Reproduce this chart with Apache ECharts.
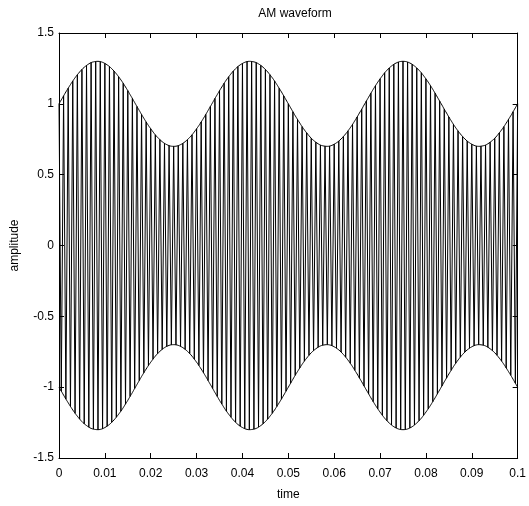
<!DOCTYPE html>
<html>
<head>
<meta charset="utf-8">
<script src="https://cdn.jsdelivr.net/npm/echarts@6/dist/echarts.min.js"></script>
<style>
html,body{margin:0;padding:0;background:#fff;}
#chart{width:529px;height:506px;}
</style>
</head>
<body>
<div id="chart"></div>
<script>
// time samples (s) at each carrier half-cycle peak
var time = [
0,0.0005,0.001,0.0015,0.002,0.0025,0.003,0.0035,0.004,0.0045,
0.005,0.0055,0.006,0.0065,0.007,0.0075,0.008,0.0085,0.009,0.0095,
0.01,0.0105,0.011,0.0115,0.012,0.0125,0.013,0.0135,0.014,0.0145,
0.015,0.0155,0.016,0.0165,0.017,0.0175,0.018,0.0185,0.019,0.0195,
0.02,0.0205,0.021,0.0215,0.022,0.0225,0.023,0.0235,0.024,0.0245,
0.025,0.0255,0.026,0.0265,0.027,0.0275,0.028,0.0285,0.029,0.0295,
0.03,0.0305,0.031,0.0315,0.032,0.0325,0.033,0.0335,0.034,0.0345,
0.035,0.0355,0.036,0.0365,0.037,0.0375,0.038,0.0385,0.039,0.0395,
0.04,0.0405,0.041,0.0415,0.042,0.0425,0.043,0.0435,0.044,0.0445,
0.045,0.0455,0.046,0.0465,0.047,0.0475,0.048,0.0485,0.049,0.0495,
0.05,0.0505,0.051,0.0515,0.052,0.0525,0.053,0.0535,0.054,0.0545,
0.055,0.0555,0.056,0.0565,0.057,0.0575,0.058,0.0585,0.059,0.0595,
0.06,0.0605,0.061,0.0615,0.062,0.0625,0.063,0.0635,0.064,0.0645,
0.065,0.0655,0.066,0.0665,0.067,0.0675,0.068,0.0685,0.069,0.0695,
0.07,0.0705,0.071,0.0715,0.072,0.0725,0.073,0.0735,0.074,0.0745,
0.075,0.0755,0.076,0.0765,0.077,0.0775,0.078,0.0785,0.079,0.0795,
0.08,0.0805,0.081,0.0815,0.082,0.0825,0.083,0.0835,0.084,0.0845,
0.085,0.0855,0.086,0.0865,0.087,0.0875,0.088,0.0885,0.089,0.0895,
0.09,0.0905,0.091,0.0915,0.092,0.0925,0.093,0.0935,0.094,0.0945,
0.095,0.0955,0.096,0.0965,0.097,0.0975,0.098,0.0985,0.099,0.0995,
0.1
];
// amplitude at each of those peaks (alternating sign carrier, envelope)
var amplitude = [
1.000,-1.028,1.056,-1.084,1.110,-1.136,1.161,-1.184,1.205,-1.225,
1.243,-1.258,1.271,-1.282,1.291,-1.296,1.299,-1.300,1.298,-1.293,
1.285,-1.275,1.263,-1.248,1.231,-1.212,1.191,-1.169,1.145,-1.119,
1.093,-1.065,1.038,-1.009,0.981,-0.953,0.925,-0.898,0.872,-0.847,
0.824,-0.802,0.781,-0.763,0.747,-0.733,0.721,-0.712,0.705,-0.701,
0.700,-0.701,0.705,-0.712,0.721,-0.733,0.747,-0.763,0.781,-0.802,
0.824,-0.847,0.872,-0.898,0.925,-0.953,0.981,-1.009,1.038,-1.065,
1.093,-1.119,1.145,-1.169,1.191,-1.212,1.231,-1.248,1.263,-1.275,
1.285,-1.293,1.298,-1.300,1.299,-1.296,1.291,-1.282,1.271,-1.258,
1.243,-1.225,1.205,-1.184,1.161,-1.136,1.110,-1.084,1.056,-1.028,
1.000,-0.972,0.944,-0.916,0.890,-0.864,0.839,-0.816,0.795,-0.775,
0.757,-0.742,0.729,-0.718,0.709,-0.704,0.701,-0.700,0.702,-0.707,
0.715,-0.725,0.737,-0.752,0.769,-0.788,0.809,-0.831,0.855,-0.881,
0.907,-0.935,0.962,-0.991,1.019,-1.047,1.075,-1.102,1.128,-1.153,
1.176,-1.198,1.219,-1.237,1.253,-1.267,1.279,-1.288,1.295,-1.299,
1.300,-1.299,1.295,-1.288,1.279,-1.267,1.253,-1.237,1.219,-1.198,
1.176,-1.153,1.128,-1.102,1.075,-1.047,1.019,-0.991,0.962,-0.935,
0.907,-0.881,0.855,-0.831,0.809,-0.788,0.769,-0.752,0.737,-0.725,
0.715,-0.707,0.702,-0.700,0.701,-0.704,0.709,-0.718,0.729,-0.742,
0.757,-0.775,0.795,-0.816,0.839,-0.864,0.890,-0.916,0.944,-0.972,
1.000
];
var xTicks = [0,0.01,0.02,0.03,0.04,0.05,0.06,0.07,0.08,0.09,0.1];
var yTicks = [-1.5,-1,-0.5,0,0.5,1,1.5];

var FONT = 'Liberation Sans, Arial, sans-serif';
var seriesData = time.map(function(t,i){ return [t, amplitude[i]]; });
var upperEnv = time.map(function(t,i){ return [t, Math.abs(amplitude[i])]; });
var lowerEnv = time.map(function(t,i){ return [t, -Math.abs(amplitude[i])]; });
function fmt(v){ return String(parseFloat(Number(v).toFixed(4))); }

var lineStyle = {color:'#000', width:1};
var chart = echarts.init(document.getElementById('chart'), null, {renderer:'canvas'});
chart.setOption({
  backgroundColor:'#fff',
  animation:false,
  title:{
    text:'AM waveform', left:290, top:3, textAlign:'center',
    textStyle:{fontFamily:FONT, fontSize:12, fontWeight:'normal', color:'#000'}
  },
  grid:{left:59, right:9, top:33, bottom:44, containLabel:false},
  xAxis:[{
    type:'value', position:'bottom',
    min:xTicks[0], max:xTicks[xTicks.length-1], interval:0.01,
    name:'time', nameLocation:'middle', nameGap:31,
    nameTextStyle:{fontFamily:FONT, fontSize:12, color:'#000'},
    axisLine:{show:true, onZero:false, lineStyle:lineStyle},
    axisTick:{show:true, inside:true, length:5, lineStyle:lineStyle},
    axisLabel:{fontFamily:FONT, fontSize:12, color:'#000', margin:10, formatter:fmt},
    splitLine:{show:false}
  },{
    type:'value', position:'top',
    min:xTicks[0], max:xTicks[xTicks.length-1], interval:0.01,
    axisLine:{show:true, onZero:false, lineStyle:lineStyle},
    axisTick:{show:true, inside:true, length:5, lineStyle:lineStyle},
    axisLabel:{show:false},
    splitLine:{show:false}
  }],
  yAxis:[{
    type:'value', position:'left',
    min:yTicks[0], max:yTicks[yTicks.length-1], interval:0.5,
    name:'amplitude', nameLocation:'middle', nameGap:38, nameRotate:90,
    nameTextStyle:{fontFamily:FONT, fontSize:12, color:'#000'},
    axisLine:{show:true, onZero:false, lineStyle:lineStyle},
    axisTick:{show:true, inside:true, length:5, lineStyle:lineStyle},
    axisLabel:{fontFamily:FONT, fontSize:12, color:'#000', margin:5, formatter:fmt},
    splitLine:{show:false}
  },{
    type:'value', position:'right',
    min:yTicks[0], max:yTicks[yTicks.length-1], interval:0.5,
    axisLine:{show:true, onZero:false, lineStyle:lineStyle},
    axisTick:{show:true, inside:true, length:5, lineStyle:lineStyle},
    axisLabel:{show:false},
    splitLine:{show:false}
  }],
  series:[{
    type:'line', xAxisIndex:0, yAxisIndex:0,
    data:seriesData, showSymbol:false, symbol:'none',
    lineStyle:{color:'#000', width:1}, clip:true
  },{
    type:'line', xAxisIndex:0, yAxisIndex:0,
    data:upperEnv, showSymbol:false, symbol:'none', smooth:true,
    lineStyle:{color:'#000', width:1}, clip:true
  },{
    type:'line', xAxisIndex:0, yAxisIndex:0,
    data:lowerEnv, showSymbol:false, symbol:'none', smooth:true,
    lineStyle:{color:'#000', width:1}, clip:true
  }]
});
</script>
</body>
</html>
